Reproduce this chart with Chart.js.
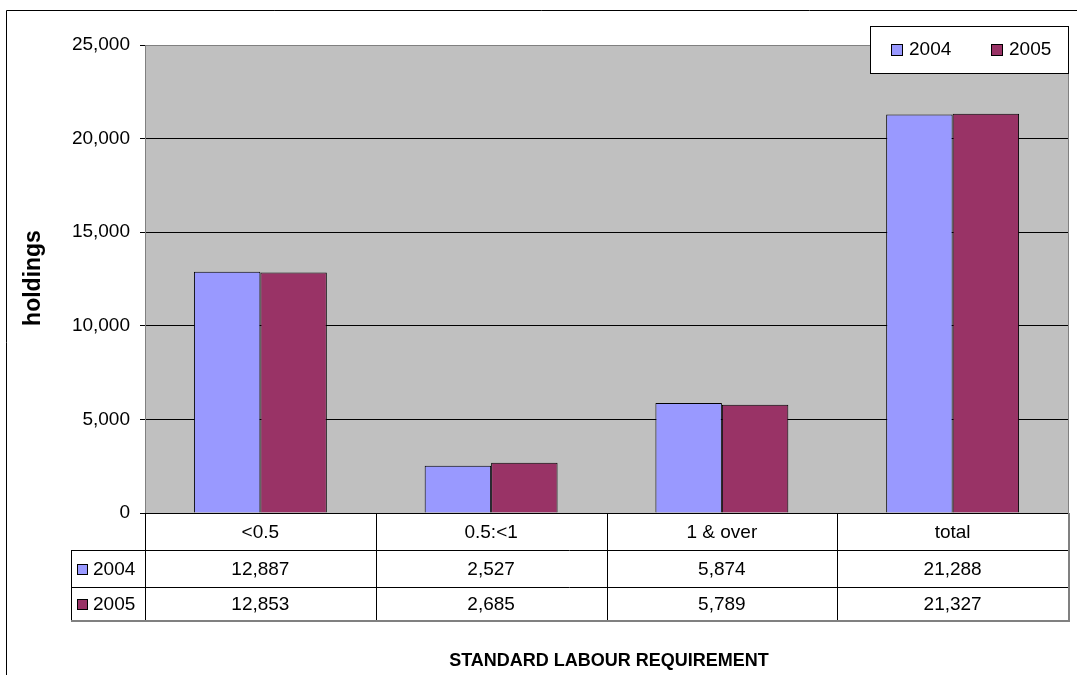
<!DOCTYPE html>
<html>
<head>
<meta charset="utf-8">
<script src="https://cdn.jsdelivr.net/npm/chart.js@4.4.0/dist/chart.umd.min.js"></script>
<style>
  body { margin: 0; background: #fff; }
  #wrap { width: 1077px; height: 675px; }
</style>
</head>
<body>
<div id="wrap"><canvas id="bars" width="1077" height="675"></canvas></div>
<script>
// data
const categories = ['<0.5', '0.5:<1', '1 & over', 'total'];
const years = ['2004', '2005'];
const holdings2004 = [12887, 2527, 5874, 21288];
const holdings2005 = [12853, 2685, 5789, 21327];
const yTicks = [0, 5000, 10000, 15000, 20000, 25000];

const colors = ['#9999FF', '#993366'];
const FONT = "'Liberation Sans', Arial, sans-serif";

function fmt(v) { return v.toLocaleString('en-US'); }

// draws background, frame, data table, legend and axis titles
const excelLook = {
  id: 'excelLook',
  beforeDraw(chart) {
    const c = chart.ctx, a = chart.chartArea;
    c.save();
    c.fillStyle = '#fff';
    c.fillRect(0, 0, chart.width, chart.height);
    c.fillStyle = '#C0C0C0';
    c.fillRect(a.left, a.top, a.right - a.left, a.bottom - a.top);
    // outer frame
    c.strokeStyle = '#000';
    c.lineWidth = 1;
    c.beginPath();
    c.moveTo(6.5, chart.height);
    c.lineTo(6.5, 10.5);
    c.lineTo(chart.width, 10.5);
    c.stroke();
    c.restore();
  },
  afterDraw(chart) {
    const c = chart.ctx, a = chart.chartArea, x = chart.scales.x;
    const series = [holdings2004, holdings2005];
    c.save();
    // plot right edge
    c.strokeStyle = '#808080';
    c.beginPath();
    c.moveTo(a.right + 0.5, a.top);
    c.lineTo(a.right + 0.5, a.bottom);
    c.stroke();

    // data table
    const rowsY = [a.bottom, 550, 587, 621];
    const tableLeft = 71;
    const step = (a.right - a.left) / categories.length;
    c.strokeStyle = '#000';
    c.lineWidth = 1;
    c.beginPath();
    for (let i = 0; i <= categories.length; i++) {
      const vx = Math.round(a.left + i * step) + 0.5;
      c.moveTo(vx, rowsY[0]);
      c.lineTo(vx, rowsY[3]);
    }
    c.moveTo(tableLeft + 0.5, rowsY[1]);
    c.lineTo(tableLeft + 0.5, rowsY[3]);
    c.moveTo(tableLeft, rowsY[1] + 0.5);
    c.lineTo(a.right, rowsY[1] + 0.5);
    c.moveTo(tableLeft, rowsY[2] + 0.5);
    c.lineTo(a.right, rowsY[2] + 0.5);
    c.stroke();
    c.strokeStyle = '#808080';
    c.lineWidth = 2;
    c.beginPath();
    c.moveTo(tableLeft, rowsY[3]);
    c.lineTo(a.right + 1, rowsY[3]);
    c.lineTo(a.right + 1, rowsY[0]);
    c.stroke();

    c.fillStyle = '#000';
    c.font = '19px ' + FONT;
    c.textAlign = 'center';
    c.textBaseline = 'middle';
    categories.forEach((cat, i) => {
      const cx = x.getPixelForValue(i);
      c.fillText(cat, cx, (rowsY[0] + rowsY[1]) / 2 + 1);
      series.forEach((s, r) => {
        c.fillText(fmt(s[i]), cx, (rowsY[r + 1] + rowsY[r + 2]) / 2 + 1);
      });
    });
    // row keys
    c.lineWidth = 1;
    c.textAlign = 'left';
    years.forEach((yr, r) => {
      const cy = (rowsY[r + 1] + rowsY[r + 2]) / 2;
      c.fillStyle = colors[r];
      c.fillRect(77, Math.round(cy - 5), 11, 11);
      c.strokeStyle = '#000';
      c.strokeRect(77.5, Math.round(cy - 5) + 0.5, 10, 10);
      c.fillStyle = '#000';
      c.fillText(yr, 93, cy + 1);
    });

    // legend box
    c.fillStyle = '#fff';
    c.fillRect(870, 26, 198, 47);
    c.strokeStyle = '#000';
    c.strokeRect(870.5, 26.5, 198, 47);
    const keyX = [891, 991];
    years.forEach((yr, r) => {
      c.fillStyle = colors[r];
      c.fillRect(keyX[r], 44, 12, 12);
      c.strokeStyle = '#000';
      c.strokeRect(keyX[r] + 0.5, 44.5, 11, 11);
      c.fillStyle = '#000';
      c.fillText(yr, keyX[r] + 18, 50);
    });

    // axis titles
    c.font = 'bold 18px ' + FONT;
    c.textAlign = 'center';
    c.fillText('STANDARD LABOUR REQUIREMENT', 609, 661);
    c.translate(34, 278);
    c.rotate(-Math.PI / 2);
    c.font = 'bold 23px ' + FONT;
    c.fillText('holdings', 0, 0);
    c.restore();
  }
};

new Chart(document.getElementById('bars'), {
  type: 'bar',
  data: {
    labels: categories,
    datasets: [
      { label: years[0], data: holdings2004, backgroundColor: colors[0], borderColor: '#000', borderWidth: 1 },
      { label: years[1], data: holdings2005, backgroundColor: colors[1], borderColor: '#000', borderWidth: 1 }
    ]
  },
  options: {
    responsive: false,
    animation: false,
    categoryPercentage: 0.576,
    barPercentage: 1,
    layout: { padding: { left: 6, top: 45, right: 9, bottom: 162 } },
    plugins: { legend: { display: false }, tooltip: { enabled: false } },
    scales: {
      x: { display: false },
      y: {
        min: 0, max: 25000,
        afterBuildTicks: s => { s.ticks = yTicks.map(v => ({ value: v })); },
        afterFit: s => { s.width = 139; },
        ticks: { color: '#000', padding: 10, font: { family: FONT, size: 19 }, callback: v => fmt(v) },
        grid: { color: ctx => ctx.tick && ctx.tick.value === 25000 ? '#808080' : '#000', tickColor: '#000', tickLength: 5, lineWidth: 1 },
        border: { color: '#808080' }
      }
    }
  },
  plugins: [excelLook]
});
</script>
</body>
</html>
